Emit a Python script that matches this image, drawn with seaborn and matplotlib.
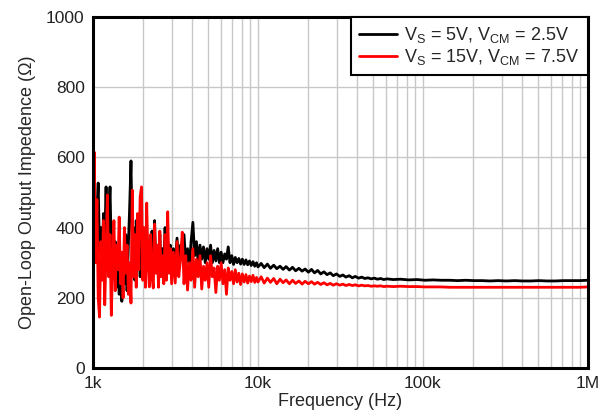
import numpy as np
import pandas as pd
import seaborn as sns
import matplotlib.pyplot as plt
from matplotlib.ticker import FixedLocator, LogLocator, NullFormatter

# frequencies (Hz)
freq = [1000, 1018, 1037, 1056, 1075, 1095, 1115, 1136, 1157, 1178, 1200, 1222, 1245, 1268,
        1291, 1315, 1339, 1364, 1389, 1415, 1441, 1468, 1495, 1522, 1550, 1579, 1608, 1638,
        1668, 1699, 1730, 1762, 1795, 1828, 1862, 1896, 1931, 1967, 2003, 2040, 2078, 2116,
        2155, 2195, 2236, 2277, 2319, 2362, 2406, 2450, 2495, 2541, 2588, 2636, 2685, 2734,
        2785, 2836, 2888, 2942, 2996,
        3070, 3150, 3230, 3310, 3390, 3475, 3560, 3650, 3740, 3835, 3930, 4030, 4130, 4235,
        4340, 4450, 4560, 4675, 4790, 4910, 5030, 5160, 5290, 5420, 5555, 5695, 5835, 5980,
        6130, 6285, 6440, 6600, 6765, 6935, 7110, 7285, 7470, 7655, 7845, 8040, 8245, 8450,
        8660, 8875, 9100, 9325, 9560, 9800,
        10000, 10450, 10900, 11400, 11900, 12450, 13000, 13600, 14200, 14800, 15500, 16200,
        16900, 17700, 18500, 19300, 20200, 21100, 22000, 23000, 24000, 25100, 26200, 27400,
        28600, 29900, 31300, 32700, 34100, 35700, 37300, 38900, 40700, 42500, 44400, 46400,
        48500, 50700, 53000, 55400, 57900, 60500,
        66000, 73000, 82000, 92000, 103000, 115000, 129000, 145000, 162000, 182000, 204000,
        228000, 255000, 286000, 320000, 360000, 400000, 450000, 505000, 565000, 635000,
        710000, 795000, 890000, 1000000]

# Vs = 5V, Vcm = 2.5V
z_5v = [340, 420, 300, 450, 527, 330, 400, 280, 440, 360, 516, 300, 420, 516,
        330, 380, 260, 360, 230, 330, 210, 300, 190, 320, 240, 380, 220, 350,
        460, 590, 340, 400, 250, 420, 300, 370, 260, 400, 290, 360, 250, 380,
        310, 350, 260, 390, 300, 420, 280, 350, 310, 380, 270, 340, 300, 400,
        290, 360, 310, 350, 280,
        340, 300, 370, 290, 350, 310, 380, 300, 340, 290, 360, 415, 320, 360,
        300, 350, 310, 345, 300, 340, 310, 350, 300, 335, 305, 340, 300, 330,
        300, 325, 310, 345, 300, 320, 295, 315, 300, 312, 296, 310, 295, 308,
        294, 305, 292, 303, 290, 300,
        288, 298, 286, 296, 284, 293, 283, 290, 281, 289, 279, 287,
        277, 284, 276, 282, 273, 281, 271, 278, 268, 274, 266, 271,
        263, 268, 261, 265, 259, 263, 257, 261, 256, 259, 255, 257,
        254, 256, 253, 255, 252, 254,
        252, 253, 251, 252, 250, 251, 250, 250, 249, 250, 249,
        249, 248, 249, 248, 249, 248, 248, 249, 248, 248,
        249, 249, 249, 250]

# Vs = 15V, Vcm = 7.5V
z_15v = [380, 615, 300, 480, 200, 145, 360, 250, 420, 180, 330, 493, 260, 380,
         150, 300, 420, 220, 350, 280, 430, 240, 330, 200, 400, 270, 350, 210,
         300, 185, 507, 260, 380, 230, 440, 280, 487, 516, 250, 400, 230, 470,
         300, 231, 380, 260, 228, 410, 270, 350, 230, 390, 260, 320, 240, 380,
         250, 445, 270, 340, 240,
         330, 242, 360, 260, 310, 387, 240, 320, 222, 300, 250, 340, 230, 310,
         260, 320, 225, 290, 250, 300, 230, 320, 260, 285, 215, 290, 250, 300,
         240, 280, 210, 285, 250, 275, 240, 280, 245, 270, 238, 268, 245, 266,
         242, 262, 246, 264, 244, 258,
         245, 260, 242, 256, 244, 255, 240, 253, 243, 251, 240, 250,
         241, 248, 239, 247, 240, 246, 239, 244, 238, 243, 237, 241,
         236, 240, 236, 239, 235, 238, 235, 237, 234, 236, 234, 235,
         233, 234, 233, 234, 232, 233,
         232, 233, 232, 232, 231, 231, 231, 230, 230, 230, 230,
         230, 230, 230, 230, 230, 230, 230, 230, 230, 230,
         230, 230, 230, 231]

labels = [r'V$_\mathrm{S}$ = 5V, V$_\mathrm{CM}$ = 2.5V',
          r'V$_\mathrm{S}$ = 15V, V$_\mathrm{CM}$ = 7.5V']

df = pd.DataFrame({
    'freq': freq * 2,
    'z': z_5v + z_15v,
    'series': [labels[0]] * len(freq) + [labels[1]] * len(freq),
})

sns.set_style("white")
plt.rcParams['font.family'] = ['Liberation Sans', 'DejaVu Sans']
plt.rcParams['mathtext.fontset'] = 'custom'
plt.rcParams['mathtext.rm'] = 'Liberation Sans'

fig = plt.figure(figsize=(6.02, 4.19), dpi=100)
ax = fig.add_axes([0.1545, 0.1217, 0.8222, 0.8377])

sns.lineplot(data=df, x='freq', y='z', hue='series', palette=['black', 'red'],
             linewidth=2.0, ax=ax, estimator=None, sort=False)

ax.set_xscale('log')
ax.set_xlim(1000, 1e6)
ax.set_ylim(0, 1000)
ax.xaxis.set_major_locator(FixedLocator([1e3, 1e4, 1e5, 1e6]))
ax.set_xticklabels(['1k', '10k', '100k', '1M'])
ax.xaxis.set_minor_locator(LogLocator(base=10, subs=np.arange(2, 10)))
ax.xaxis.set_minor_formatter(NullFormatter())
ax.set_yticks(range(0, 1001, 200))

ax.grid(True, which='both', color='#c8c8c8', linewidth=1)
ax.set_axisbelow(True)
for s in ax.spines.values():
    s.set_color('black')
    s.set_linewidth(2.2)
ax.tick_params(axis='both', which='both', length=0, labelsize=12.5, pad=6, colors='#222222')

ax.set_xlabel('Frequency (Hz)', fontsize=13, labelpad=1)
ax.set_ylabel('Open-Loop Output Impedence (Ω)', fontsize=13, labelpad=7)

leg = ax.legend(loc='upper right', fontsize=13, frameon=True, fancybox=False,
                framealpha=1, edgecolor='black', borderaxespad=0, handlelength=2.1,
                handletextpad=0.4, labelspacing=0.1, borderpad=0.45)
leg.get_frame().set_linewidth(1.5)
for line in leg.get_lines():
    line.set_linewidth(2)

plt.savefig('out.png', dpi=100)
plt.close()
